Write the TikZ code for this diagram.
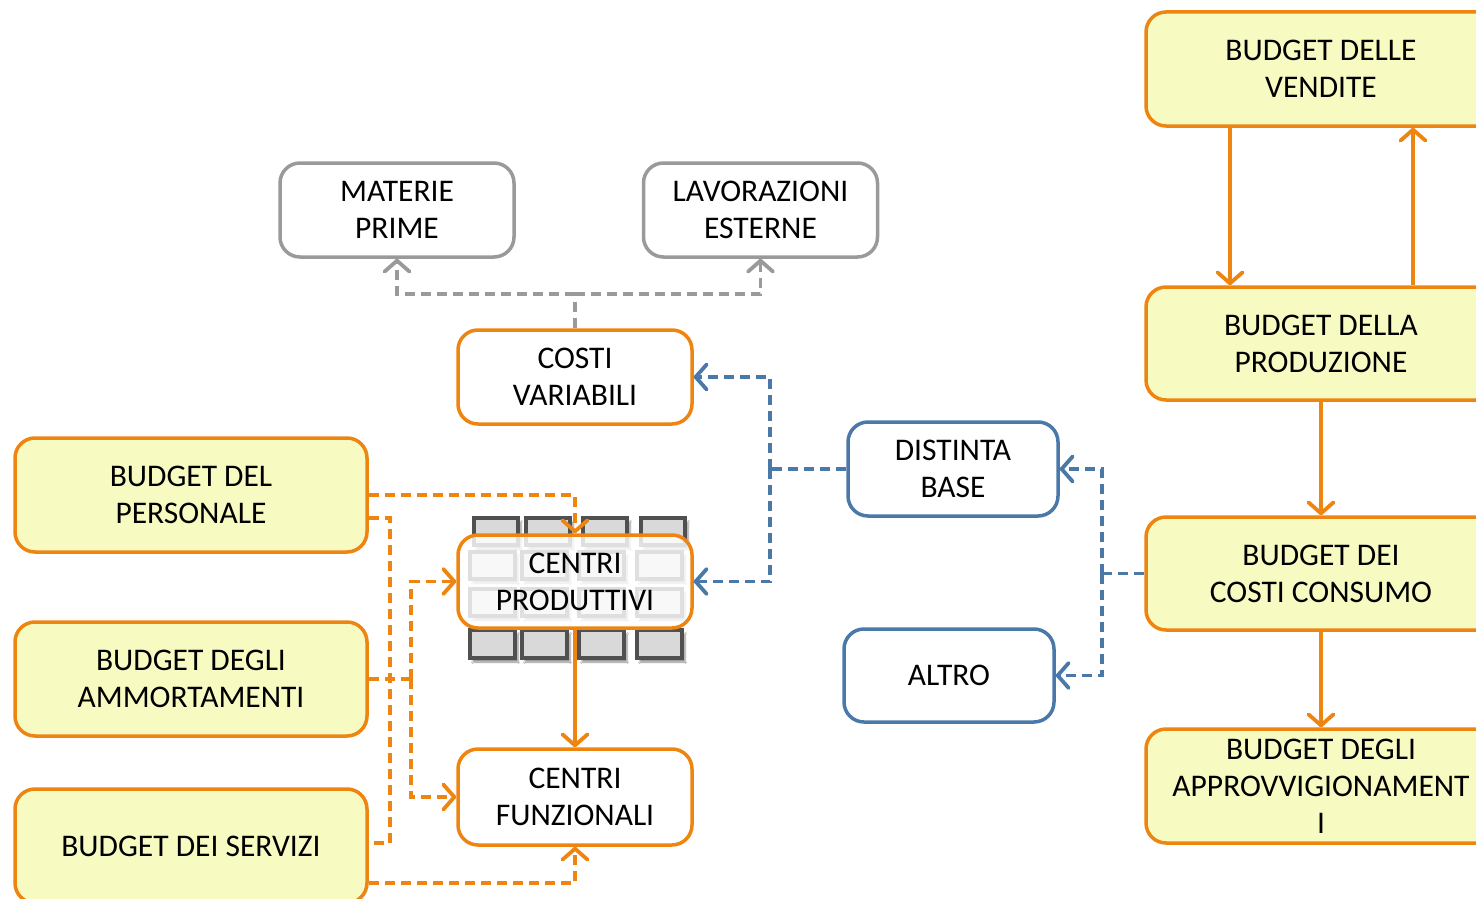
\documentclass[tikz,border=0pt]{standalone}
\usepackage{fontspec}
\setmainfont{Carlito}
\usetikzlibrary{arrows.meta,shadows.blur}
\definecolor{org}{HTML}{EE8510}
\definecolor{ylw}{HTML}{F7FBC2}
\definecolor{blu}{HTML}{4A78A8}
\definecolor{gry}{HTML}{9A9A9A}
\definecolor{cellf}{HTML}{D9D9D9}
\definecolor{celld}{HTML}{505050}
\tikzset{
  box/.style={draw, rounded corners=20pt, line width=3.5pt, minimum width=#1, align=center, inner sep=0pt,
     font=\fontsize{31.5}{37}\selectfont},
  ybox/.style={box=352pt, draw=org, fill=ylw, minimum height=114pt},
  obox/.style={box=234pt, draw=org, fill=white, minimum height=94pt},
  gbox/.style={box=234pt, draw=gry, fill=white, minimum height=94pt},
  bbox/.style={box=210pt, draw=blu, fill=white, minimum height=94pt},
  tip/.style={-{Straight Barb[length=11pt,width=25pt,line cap=round,line join=round]}},
  con/.style={line width=3.8pt},
  odash/.style={con, draw=org, dash pattern=on 10pt off 6pt},
  bdash/.style={con, draw=blu, dash pattern=on 10pt off 6pt},
  gdash/.style={con, draw=gry, dash pattern=on 10pt off 6pt},
  osolid/.style={con, draw=org},
  cell/.style={draw=celld, fill=cellf, line width=3.2pt, blur shadow={shadow xshift=3pt, shadow yshift=-4pt, shadow blur steps=6, shadow opacity=45}},
}
\begin{document}
\begin{tikzpicture}[x=1pt,y=-1pt]
\useasboundingbox (0,0) rectangle (1476,899);
\clip (0,0) rectangle (1476,899);
\fill[white] (0,0) rectangle (1476,899);

% right column
\node[ybox, minimum width=350pt] (vend) at (1321,69) {BUDGET DELLE\\VENDITE};
\node[ybox, minimum width=350pt, minimum height=113pt] (prod) at (1321,343.5) {BUDGET DELLA\\PRODUZIONE};
\node[ybox, minimum width=350pt, minimum height=113pt] (cons) at (1321,573.5) {BUDGET DEI\\COSTI CONSUMO};
\node[ybox, minimum width=350pt] (appr) at (1321,786) {BUDGET DEGLI\\APPROVVIGIONAMENT\\I};

% top gray
\node[gbox] (mat) at (397,210) {MATERIE\\PRIME};
\node[gbox] (lav) at (760.5,210) {LAVORAZIONI\\ESTERNE};
\node[obox] (cv) at (575,377) {COSTI\\VARIABILI};

% blue
\node[bbox] (dist) at (953,469) {DISTINTA\\BASE};
\node[bbox, minimum height=93pt] (alt) at (949,675.5) {ALTRO};

% left column
\node[ybox] (pers) at (191,495) {BUDGET DEL\\PERSONALE};
\node[ybox] (amm) at (191,679) {BUDGET DEGLI\\AMMORTAMENTI};
\node[ybox] (serv) at (191,846) {BUDGET DEI SERVIZI};

\node[obox, minimum height=96pt] (cf) at (575,797) {CENTRI\\FUNZIONALI};

% solid arrow CP -> CF (behind grid)
\coordinate (cpbot) at (575,628);
\draw[osolid, tip] (cpbot) -- (cf.north);

% grid of cells behind centri produttivi
\foreach \x in {474,526,583,641} {\draw[cell] (\x,518) rectangle ++(44,27);}
\foreach \x in {470,522,579,637} {
  \draw[cell] (\x,552) rectangle ++(45,27);
  \draw[cell] (\x,589) rectangle ++(45,27);
  \draw[cell] (\x,630) rectangle ++(45,28);
}
\node[obox, minimum height=93pt, fill opacity=0.82, text opacity=1] (cp) at (575,581.5) {CENTRI\\PRODUTTIVI};

% right column connectors
\draw[osolid, tip] ([xshift=-91pt]vend.south) -- ([xshift=-91pt]prod.north);
\draw[osolid, tip] ([xshift=92pt]prod.north) -- ([xshift=92pt]vend.south);
\draw[osolid, tip] (prod.south) -- (cons.north);
\draw[osolid, tip] (cons.south) -- (appr.north);

% gray dashed
\coordinate (g) at (575,294);
\draw[gdash] (cv.north) -- (g);
\draw[gdash, tip] (g) -| (mat.south);
\draw[gdash, tip] (g) -| (lav.south);

% blue dashed
\coordinate (b1) at (770,469);
\draw[bdash] (dist.west) -- (b1);
\draw[bdash, tip] (b1) |- (cv.east);
\draw[bdash, tip] (b1) |- (cp.east);
\coordinate (b2) at (1102,573.5);
\draw[bdash] (cons.west) -- (b2);
\draw[bdash, tip] (b2) |- (dist.east);
\draw[bdash, tip] (b2) |- (alt.east);

% orange dashed, left
\draw[odash, tip] (pers.east) -| (cp.north);
\coordinate (p2) at (390,518);
\draw[odash] ([yshift=-23pt]pers.east) -- (p2) |- ([yshift=3pt]serv.east);
\coordinate (a1) at (411,679);
\draw[odash] (amm.east) -- (a1);
\draw[odash, tip] (a1) |- (cp.west);
\draw[odash, tip] (a1) |- (cf.west);
\draw[odash, tip] ([yshift=-37pt]serv.east) -| (cf.south);
\end{tikzpicture}
\end{document}
